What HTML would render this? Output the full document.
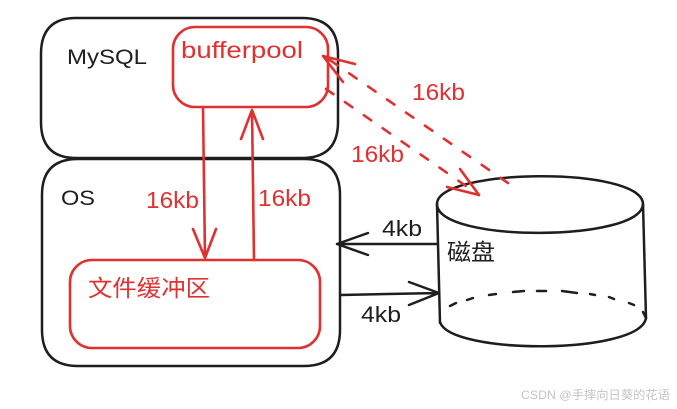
<!DOCTYPE html>
<html>
<head>
<meta charset="utf-8">
<style>
html,body{margin:0;padding:0;background:#fff;width:677px;height:409px;overflow:hidden}
svg{display:block}
text{font-family:"Liberation Sans","Noto Sans CJK SC",sans-serif}
</style>
</head>
<body>
<svg width="677" height="409" viewBox="0 0 677 409" xmlns="http://www.w3.org/2000/svg" fill="none" stroke-linecap="round" stroke-linejoin="round">
<g stroke="#1e1e1e" stroke-width="2.5">
<path d="M76 18H302Q338 18 338 54V122Q338 158 302 158H76Q41 158 41 122V54Q41 18 76 18Z"/>
<path d="M78 159H304Q340 159 340 195V330Q340 366 304 366H78Q42 366 42 330V195Q42 159 78 159Z"/>
<path d="M437 204C437 168 642 166 643 204C642 242 437 243 437 204Z"/>
<path d="M437 204L440 323"/>
<path d="M643 204L646 318"/>
<path d="M440 322C450 355 640 355 646 318"/>
<path d="M450 306L456 303M467 300L473 298M489 295L496 294M513 292L524 291M537 291L546 291M562 291L577 293M590 294L595 295M609 297L614 299M629 303L634 305M643 312L646 318"/>
<path d="M437 244L337 244M368 233L337 244L368 255"/>
<path d="M341 295L439 293M409 282L439 293L409 305"/>
</g>
<g stroke="#e03131" stroke-width="2.6">
<rect x="173" y="27" width="155" height="80" rx="22"/>
<rect x="70" y="260" width="250" height="88" rx="22"/>
<path d="M203 107L205 258M193 229L205 258L216 229"/>
<path d="M254 260L252 110M241 139L252 110L263 139"/>
<path d="M508 183L324 56" stroke-dasharray="9 14"/>
<path d="M355 64L323 56L343 82"/>
<path d="M326 89L479 195" stroke-dasharray="9 14"/>
<path d="M447 187L479 195L460 169"/>
</g>
<g fill="#1e1e1e" font-size="21">
<text x="67" y="64" textLength="80" lengthAdjust="spacingAndGlyphs">MySQL</text>
<text x="61" y="205" textLength="34" lengthAdjust="spacingAndGlyphs">OS</text>
<text x="382" y="236" font-size="22" textLength="40" lengthAdjust="spacingAndGlyphs">4kb</text>
<text x="361" y="322" font-size="22" textLength="40" lengthAdjust="spacingAndGlyphs">4kb</text>
<text x="447" y="260" font-size="23" textLength="48" lengthAdjust="spacingAndGlyphs">磁盘</text>
</g>
<g fill="#e03131" font-size="23">
<text x="181" y="58" textLength="122" lengthAdjust="spacingAndGlyphs">bufferpool</text>
<text x="146" y="208" textLength="53" lengthAdjust="spacingAndGlyphs">16kb</text>
<text x="258" y="206" textLength="53" lengthAdjust="spacingAndGlyphs">16kb</text>
<text x="412" y="100" textLength="53" lengthAdjust="spacingAndGlyphs">16kb</text>
<text x="351" y="162" textLength="53" lengthAdjust="spacingAndGlyphs">16kb</text>
<text x="88" y="296" font-size="23" textLength="122" lengthAdjust="spacingAndGlyphs">文件缓冲区</text>
</g>
<text x="521" y="399" font-size="12" fill="#c4c4c4" stroke="none" textLength="149" lengthAdjust="spacingAndGlyphs">CSDN @手摔向日葵的花语</text>
</svg>
</body>
</html>
